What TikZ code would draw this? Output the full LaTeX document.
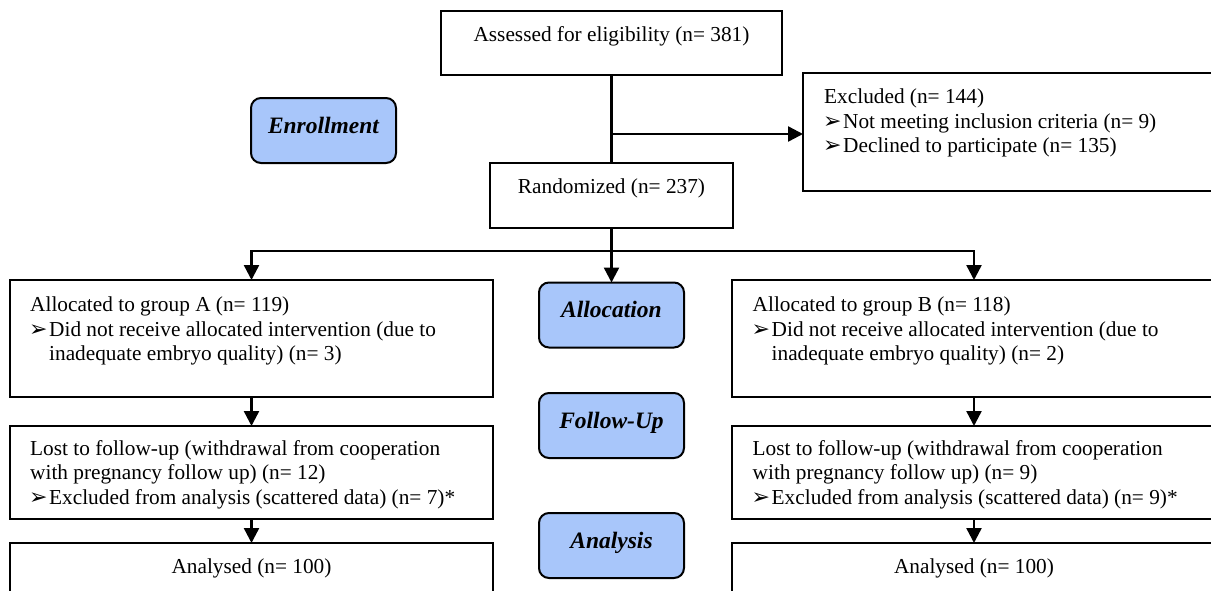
\documentclass[tikz,border=0pt]{standalone}
\usepackage{fontspec}
\setmainfont{Liberation Serif}
\newfontfamily\dejavu{DejaVu Sans}
\usetikzlibrary{arrows.meta}
\definecolor{phase}{RGB}{168,198,250}
\newcommand\bul{\makebox[19pt][l]{\hspace*{-1pt}\fontsize{22}{22}\dejavu ➢}}
\newcommand\ind{\hspace*{19pt}}
\begin{document}
\begin{tikzpicture}[x=1pt,y=-1pt,
  box/.style={draw, line width=2pt, inner sep=0pt, outer sep=0pt, anchor=north west,
    font=\fontsize{21.3}{24.5}\selectfont},
  phasebox/.style={draw, line width=2pt, fill=phase, rounded corners=10pt,
    anchor=north west, minimum width=145pt, minimum height=65pt, inner sep=0pt,
    outer sep=0pt, text height=35pt, text depth=30pt,
    font=\fontsize{23.5}{28}\selectfont\bfseries\itshape},
  txt/.style={inner sep=0pt, anchor=north west, align=left,
    font=\fontsize{21.3}{24.5}\selectfont},
  conn/.style={line width=2.4pt},
  arr/.style={conn, -{Triangle[length=15pt,width=15pt]}}]
\clip (0,0) rectangle (1211,590);
\fill[white] (0,0) rectangle (1211,590);

% main boxes
\node[box, minimum width=341pt, minimum height=64.3pt, text height=31pt, text depth=33.3pt]
  (assess) at (441,10.7) {Assessed for eligibility (n= 381)};
\node[box, minimum width=243pt, minimum height=65.6pt, text height=30.3pt, text depth=35.3pt]
  (rand) at (490,162.7) {Randomized (n= 237)};
\node[box, minimum width=430pt, minimum height=117.2pt] (excl) at (803,73.3) {};
\node[txt] (excltxt) at (824,86.15) {\strut Excluded (n= 144)\\
  \bul Not meeting inclusion criteria (n= 9)\\
  \bul Declined to participate (n= 135)};

\node[box, minimum width=483pt, minimum height=117pt] (ga) at (10,280) {};
\node[txt] (gatxt) at (30,294.35) {\strut Allocated to group A (n= 119)\\
  \bul Did not receive allocated intervention (due to\\
  \ind inadequate embryo quality) (n= 3)};
\node[box, minimum width=485pt, minimum height=117pt] (gb) at (731.5,280) {};
\node[txt] (gbtxt) at (752.5,294.35) {\strut Allocated to group B (n= 118)\\
  \bul Did not receive allocated intervention (due to\\
  \ind inadequate embryo quality) (n= 2)};

\node[box, minimum width=483pt, minimum height=93pt] (la) at (10,426) {};
\node[txt] (latxt) at (30,437.85) {\strut Lost to follow-up (withdrawal from cooperation\\
  with pregnancy follow up) (n= 12)\\
  \bul Excluded from analysis (scattered data) (n= 7)*};
\node[box, minimum width=485pt, minimum height=93pt] (lb) at (731.5,426) {};
\node[txt] (lbtxt) at (752.5,437.85) {\strut Lost to follow-up (withdrawal from cooperation\\
  with pregnancy follow up) (n= 9)\\
  \bul Excluded from analysis (scattered data) (n= 9)*};

\node[box, minimum width=483pt, minimum height=60pt, text height=30pt, text depth=30pt]
  (aa) at (10,543) {Analysed (n= 100)};
\node[box, minimum width=485pt, minimum height=60pt, text height=30pt, text depth=30pt]
  (ab) at (731.5,543) {Analysed (n= 100)};

% phase labels
\node[phasebox] (enrol) at (251,98) {Enrollment};
\node[phasebox] (alloc) at (539,282.5) {Allocation};
\node[phasebox] (follow) at (539,393) {Follow-Up};
\node[phasebox] (analysis) at (539,513) {Analysis};

% connectors
\coordinate (br) at (assess.south |- 0,134);
\coordinate (split) at (rand.south |- 0,251);
\draw[conn] (assess.south) -- (rand.north);
\draw[arr] (br) -- (br -| excl.west);
\draw[arr] (rand.south) -- (split) -- (alloc.north);
\draw[arr] (split) -| (ga.north);
\draw[arr] (split) -| (gb.north);
\draw[arr] (ga.south) -- (la.north);
\draw[arr] (la.south) -- (aa.north);
\draw[arr] (gb.south) -- (lb.north);
\draw[arr] (lb.south) -- (ab.north);
\end{tikzpicture}
\end{document}
